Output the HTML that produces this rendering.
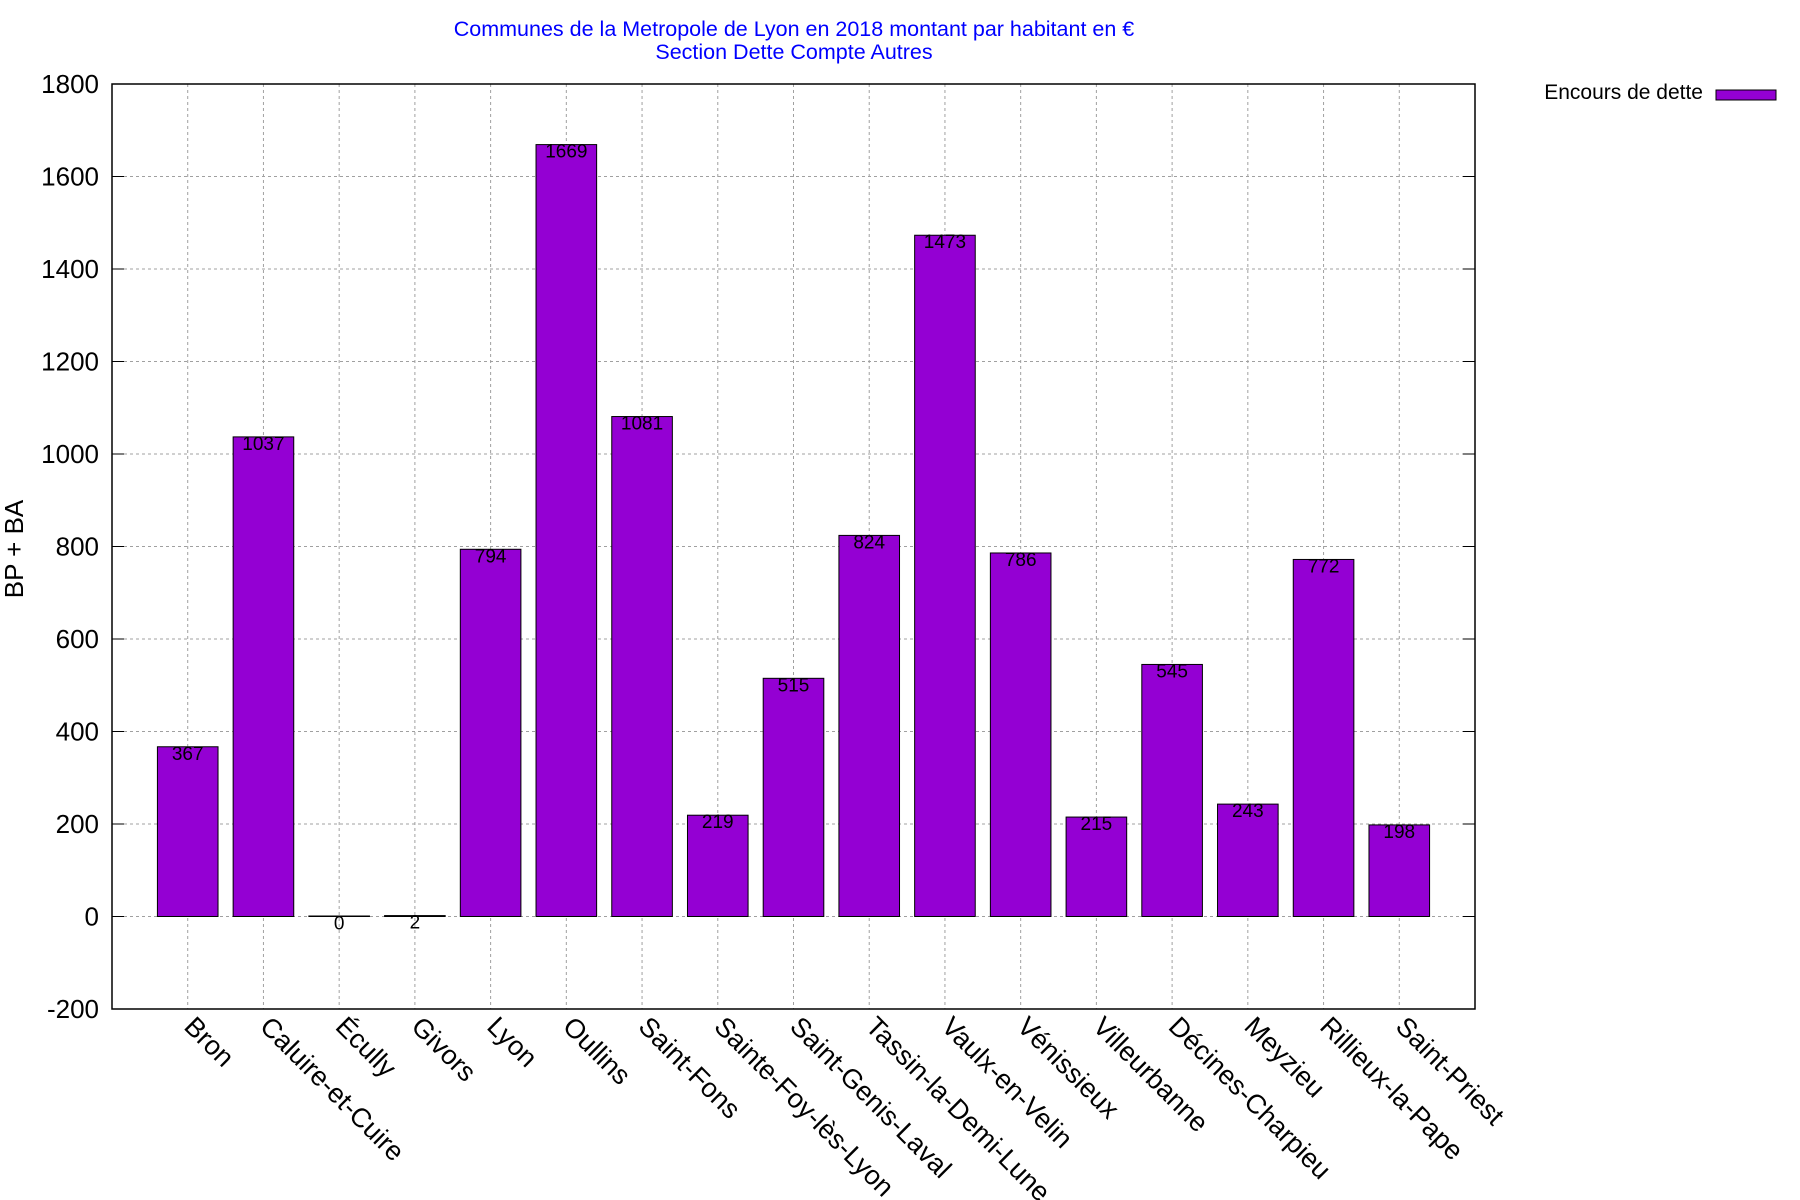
<!DOCTYPE html>
<html><head><meta charset="utf-8"><style>
html,body{margin:0;padding:0;background:#fff;}
svg{display:block;font-family:"Liberation Sans",Arial,sans-serif;}
</style></head><body>
<svg width="1800" height="1200" viewBox="0 0 1800 1200" xmlns="http://www.w3.org/2000/svg">
<rect width="1800" height="1200" fill="#fff"/>
<text x="794" y="36" font-size="21.5" fill="#0000ff" text-anchor="middle">Communes de la Metropole de Lyon en 2018 montant par habitant en €</text>
<text x="794" y="59" font-size="21.5" fill="#0000ff" text-anchor="middle">Section Dette Compte Autres</text>
<g stroke="#a0a0a0" stroke-width="1" stroke-dasharray="3,3">
<line x1="124" x2="1463" y1="916.5" y2="916.5"/><line x1="124" x2="1463" y1="824" y2="824"/><line x1="124" x2="1463" y1="731.5" y2="731.5"/><line x1="124" x2="1463" y1="639" y2="639"/><line x1="124" x2="1463" y1="546.5" y2="546.5"/><line x1="124" x2="1463" y1="454" y2="454"/><line x1="124" x2="1463" y1="361.5" y2="361.5"/><line x1="124" x2="1463" y1="269" y2="269"/><line x1="124" x2="1463" y1="176.5" y2="176.5"/>
<line x1="187.72" x2="187.72" y1="84" y2="1009"/><line x1="263.44" x2="263.44" y1="84" y2="1009"/><line x1="339.17" x2="339.17" y1="84" y2="1009"/><line x1="414.89" x2="414.89" y1="84" y2="1009"/><line x1="490.61" x2="490.61" y1="84" y2="1009"/><line x1="566.33" x2="566.33" y1="84" y2="1009"/><line x1="642.06" x2="642.06" y1="84" y2="1009"/><line x1="717.78" x2="717.78" y1="84" y2="1009"/><line x1="793.5" x2="793.5" y1="84" y2="1009"/><line x1="869.22" x2="869.22" y1="84" y2="1009"/><line x1="944.94" x2="944.94" y1="84" y2="1009"/><line x1="1020.67" x2="1020.67" y1="84" y2="1009"/><line x1="1096.39" x2="1096.39" y1="84" y2="1009"/><line x1="1172.11" x2="1172.11" y1="84" y2="1009"/><line x1="1247.83" x2="1247.83" y1="84" y2="1009"/><line x1="1323.56" x2="1323.56" y1="84" y2="1009"/><line x1="1399.28" x2="1399.28" y1="84" y2="1009"/>
</g>
<g stroke="#000" stroke-width="1">
<line x1="112" x2="124" y1="916.5" y2="916.5"/><line x1="112" x2="124" y1="824" y2="824"/><line x1="112" x2="124" y1="731.5" y2="731.5"/><line x1="112" x2="124" y1="639" y2="639"/><line x1="112" x2="124" y1="546.5" y2="546.5"/><line x1="112" x2="124" y1="454" y2="454"/><line x1="112" x2="124" y1="361.5" y2="361.5"/><line x1="112" x2="124" y1="269" y2="269"/><line x1="112" x2="124" y1="176.5" y2="176.5"/>
<line x1="1463" x2="1475" y1="916.5" y2="916.5"/><line x1="1463" x2="1475" y1="824" y2="824"/><line x1="1463" x2="1475" y1="731.5" y2="731.5"/><line x1="1463" x2="1475" y1="639" y2="639"/><line x1="1463" x2="1475" y1="546.5" y2="546.5"/><line x1="1463" x2="1475" y1="454" y2="454"/><line x1="1463" x2="1475" y1="361.5" y2="361.5"/><line x1="1463" x2="1475" y1="269" y2="269"/><line x1="1463" x2="1475" y1="176.5" y2="176.5"/>
</g>
<g fill="#9400d3" stroke="#000" stroke-width="1">
<rect x="157.42" y="746.76" width="60.6" height="169.74"/>
<rect x="233.14" y="436.89" width="60.6" height="479.61"/>
<rect x="308.87" y="916" width="60.6" height="0.5"/>
<rect x="384.59" y="915.58" width="60.6" height="0.92"/>
<rect x="460.31" y="549.27" width="60.6" height="367.23"/>
<rect x="536.03" y="144.59" width="60.6" height="771.91"/>
<rect x="611.76" y="416.54" width="60.6" height="499.96"/>
<rect x="687.48" y="815.21" width="60.6" height="101.29"/>
<rect x="763.2" y="678.31" width="60.6" height="238.19"/>
<rect x="838.92" y="535.4" width="60.6" height="381.1"/>
<rect x="914.64" y="235.24" width="60.6" height="681.26"/>
<rect x="990.37" y="552.97" width="60.6" height="363.53"/>
<rect x="1066.09" y="817.06" width="60.6" height="99.44"/>
<rect x="1141.81" y="664.44" width="60.6" height="252.06"/>
<rect x="1217.53" y="804.11" width="60.6" height="112.39"/>
<rect x="1293.26" y="559.45" width="60.6" height="357.05"/>
<rect x="1368.98" y="824.92" width="60.6" height="91.58"/>
</g>
<g font-size="19" fill="#000" text-anchor="middle">
<text x="187.72" y="759.76">367</text>
<text x="263.44" y="449.89">1037</text>
<text x="339.17" y="929.5">0</text>
<text x="414.89" y="928.58">2</text>
<text x="490.61" y="562.27">794</text>
<text x="566.33" y="157.59">1669</text>
<text x="642.06" y="429.54">1081</text>
<text x="717.78" y="828.21">219</text>
<text x="793.5" y="691.31">515</text>
<text x="869.22" y="548.4">824</text>
<text x="944.94" y="248.24">1473</text>
<text x="1020.67" y="565.97">786</text>
<text x="1096.39" y="830.06">215</text>
<text x="1172.11" y="677.44">545</text>
<text x="1247.83" y="817.11">243</text>
<text x="1323.56" y="572.45">772</text>
<text x="1399.28" y="837.92">198</text>
</g>
<rect x="112" y="84" width="1363" height="925" fill="none" stroke="#000" stroke-width="1.5"/>
<g font-size="26" fill="#000" text-anchor="end">
<text x="99" y="1018">-200</text><text x="99" y="925.5">0</text><text x="99" y="833">200</text><text x="99" y="740.5">400</text><text x="99" y="648">600</text><text x="99" y="555.5">800</text><text x="99" y="463">1000</text><text x="99" y="370.5">1200</text><text x="99" y="278">1400</text><text x="99" y="185.5">1600</text><text x="99" y="93">1800</text>
</g>
<text transform="translate(23,549) rotate(-90)" font-size="26" text-anchor="middle">BP + BA</text>
<g font-size="27" fill="#000">
<text transform="translate(182.72,1028) rotate(45)">Bron</text>
<text transform="translate(258.44,1028) rotate(45)">Caluire-et-Cuire</text>
<text transform="translate(334.17,1028) rotate(45)">Écully</text>
<text transform="translate(409.89,1028) rotate(45)">Givors</text>
<text transform="translate(485.61,1028) rotate(45)">Lyon</text>
<text transform="translate(561.33,1028) rotate(45)">Oullins</text>
<text transform="translate(637.06,1028) rotate(45)">Saint-Fons</text>
<text transform="translate(712.78,1028) rotate(45)">Sainte-Foy-lès-Lyon</text>
<text transform="translate(788.5,1028) rotate(45)">Saint-Genis-Laval</text>
<text transform="translate(864.22,1028) rotate(45)">Tassin-la-Demi-Lune</text>
<text transform="translate(939.94,1028) rotate(45)">Vaulx-en-Velin</text>
<text transform="translate(1015.67,1028) rotate(45)">Vénissieux</text>
<text transform="translate(1091.39,1028) rotate(45)">Villeurbanne</text>
<text transform="translate(1167.11,1028) rotate(45)">Décines-Charpieu</text>
<text transform="translate(1242.83,1028) rotate(45)">Meyzieu</text>
<text transform="translate(1318.56,1028) rotate(45)">Rillieux-la-Pape</text>
<text transform="translate(1394.28,1028) rotate(45)">Saint-Priest</text>
</g>
<text x="1703" y="99" font-size="21" text-anchor="end">Encours de dette</text>
<rect x="1716" y="90" width="60" height="10" fill="#9400d3" stroke="#000" stroke-width="1"/>
</svg>
</body></html>
